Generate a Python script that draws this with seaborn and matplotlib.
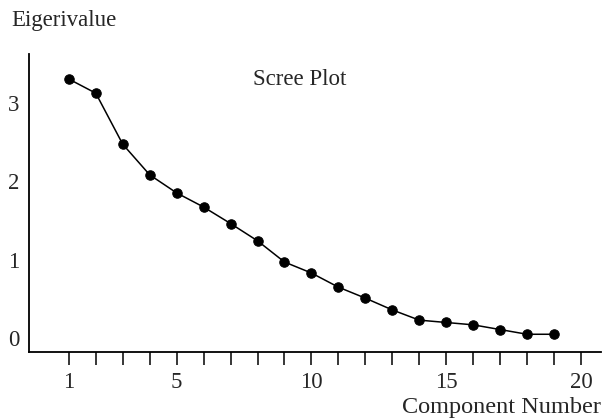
import numpy as np
import pandas as pd
import matplotlib
matplotlib.use("Agg")
import matplotlib.pyplot as plt
import seaborn as sns

components = list(range(1, 20))
eigenvalues = [3.30, 3.12, 2.47, 2.08, 1.85, 1.67, 1.46, 1.24, 0.97, 0.83,
               0.65, 0.51, 0.36, 0.23, 0.20, 0.17, 0.11, 0.05, 0.05]
x_tick_labels = [1, 5, 10, 15, 20]
y_tick_labels = [0, 1, 2, 3]

sns.set_style("ticks")
plt.rcParams['font.family'] = ['Liberation Serif', 'DejaVu Serif']

df = pd.DataFrame({"Component": components, "Eigenvalue": eigenvalues})

fig = plt.figure(figsize=(6.03, 4.18), dpi=100)
ax = fig.add_axes([0.048, 0.159, 0.949, 0.712])
sns.lineplot(data=df, x="Component", y="Eigenvalue", ax=ax, color="black",
             marker="o", markersize=6.8, markeredgecolor="black", linewidth=1.1)

ax.set_xlim(-0.48, 20.75)
ax.set_ylim(-0.17, 3.62)
ax.set_xticks(list(range(1, 21)))
ax.set_xticklabels([str(i) if i in x_tick_labels else "" for i in range(1, 21)])
ax.set_yticks(y_tick_labels)
ax.set_yticklabels([str(v) for v in y_tick_labels])
ax.tick_params(axis="x", length=9, width=1.1, direction="out", pad=6,
               labelsize=16.5, color="black")
ax.tick_params(axis="y", length=0, pad=7, labelsize=16.5)
sns.despine(ax=ax)
for s in ["left", "bottom"]:
    ax.spines[s].set_linewidth(1.3)
    ax.spines[s].set_color("black")
ax.set_xlabel("")
ax.set_ylabel("")

ax.text(0.473, 0.915, "Scree Plot", transform=ax.transAxes, ha="center",
        va="center", fontsize=16.5)
fig.text(0.018, 0.95, "Eigerivalue", ha="left", va="center", fontsize=16.5)
fig.text(0.996, 0.025, "Component Number", ha="right", va="center", fontsize=17.5)

fig.savefig("out.png", dpi=100)
